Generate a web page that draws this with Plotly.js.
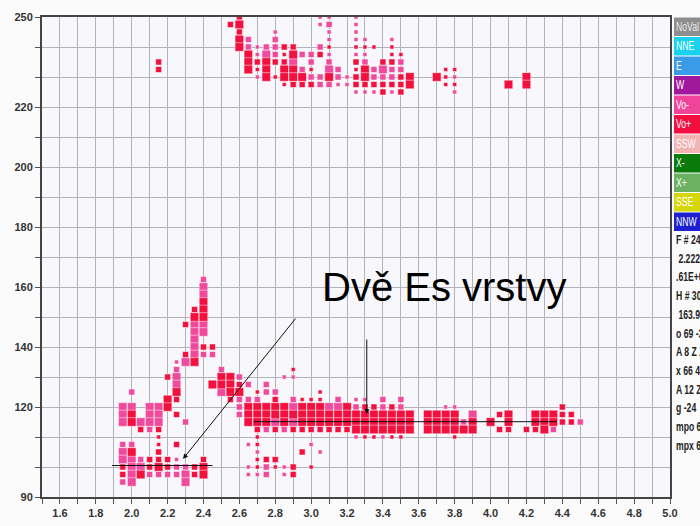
<!DOCTYPE html>
<html><head><meta charset="utf-8">
<script src="https://cdn.plot.ly/plotly-3.0.1.min.js"></script>
<style>html,body{margin:0;padding:0;background:#fbfbfc;overflow:hidden}</style>
</head><body><div id="chart" style="width:700px;height:526px"></div>
<script>
// Vo- (pink) echoes: [frequency MHz, virtual height km, amplitude class 1..3]
const voMinus = [
[2.65,242.5,2],[2.65,240,2],[2.7,240,1],[2.7,237.5,1],[2.7,230,1],
[2.75,240,2],[2.75,237.5,3],[2.8,245,1],[2.8,242.5,2],[2.8,240,2],[2.8,237.5,2],
[2.9,235,3],[2.95,237.5,2],[2.95,232.5,2],[3.0,237.5,2],[3.0,235,2],[3.0,230,2],
[3.05,250,1],[3.05,247.5,1],[3.05,240,2],[3.05,230,2],[3.05,227.5,2],
[3.1,250,1],[3.1,247.5,2],[3.1,245,1],[3.1,242.5,1],[3.1,237.5,1],[3.1,235,2],[3.1,232.5,3],[3.1,227.5,2],
[3.15,232.5,2],[3.15,230,2],[3.15,227.5,1],[3.2,230,1],[3.2,227.5,1],
[3.25,250,1],[3.25,247.5,1],[3.25,245,1],[3.25,242.5,1],[3.25,237.5,1],[3.25,225,1],
[3.3,242.5,1],[3.3,237.5,1],[3.3,235,2],[3.3,225,1],
[3.35,232.5,2],[3.35,230,2],[3.35,225,1],[3.4,232.5,3],[3.4,230,2],
[3.45,242.5,1],[3.45,232.5,2],[3.45,230,2],[3.45,225,1],[3.5,235,2],[3.5,232.5,2],
[3.8,230,1],[3.8,225,1],
[1.95,120,3],[1.95,117.5,3],[1.95,115,3],[1.95,107.5,2],[1.95,105,3],[1.95,102.5,3],[1.95,95,2],
[2.0,125,2],[2.0,120,3],[2.0,107.5,2],[2.0,102.5,3],[2.0,100,3],[2.0,97.5,3],[2.0,95,3],
[2.05,115,3],[2.05,102.5,2],[2.05,100,3],
[2.1,120,3],[2.1,117.5,3],[2.1,115,3],[2.1,112.5,2],[2.1,97.5,2],
[2.15,120,3],[2.15,117.5,3],[2.15,115,3],[2.15,97.5,2],[2.2,97.5,2],
[2.25,135,1],[2.25,132.5,2],[2.25,130,3],[2.25,127.5,3],[2.25,102.5,1],[2.25,100,2],[2.25,97.5,2],
[2.3,135,3],[2.3,115,2],[2.3,100,2],[2.3,97.5,3],[2.3,95,3],
[2.35,147.5,3],[2.35,145,3],[2.35,142.5,3],[2.35,140,3],[2.35,137.5,3],
[2.4,162.5,2],[2.4,160,3],[2.4,157.5,3],[2.4,147.5,3],[2.4,145,3],[2.4,137.5,2],
[2.45,137.5,2],[2.5,132.5,2],[2.5,125,3],
[2.6,130,2],[2.6,122.5,2],[2.6,120,2],[2.6,117.5,2],
[2.65,127.5,2],[2.65,122.5,2],[2.65,107.5,1],[2.65,100,1],[2.65,97.5,1],
[2.7,122.5,2],[2.7,105,1],[2.7,97.5,1],
[2.75,127.5,2],[2.75,125,2],[2.75,112.5,2],[2.75,100,2],[2.75,97.5,2],
[2.8,125,2],[2.8,115,3],[2.85,130,1],[2.85,112.5,2],[2.85,100,1],[2.85,97.5,1],
[2.9,130,1],[2.9,122.5,2],[2.9,120,3],[2.9,115,3],
[3.0,107.5,1],[3.05,105,1],[3.1,120,3],[3.15,122.5,2],[3.15,120,3],
[3.25,122.5,1],[3.25,120,2],[3.25,110,1],[3.3,122.5,1],
[3.4,122.5,2],[3.4,120,2],[3.4,110,1],[3.5,122.5,2],[3.5,120,2],
[3.75,120,1],[3.8,120,1],[3.85,115,2],[3.9,117.5,3],[4.35,112.5,2],[4.5,115,2]
];
// Vo+ (red) echoes
const voPlus = [
[2.15,235,2],[2.15,232.5,2],[2.55,247.5,2],
[2.6,250,2],[2.6,247.5,3],[2.6,245,2],[2.6,242.5,3],[2.6,240,3],
[2.65,237.5,3],[2.65,235,3],[2.65,232.5,3],[2.7,235,2],[2.7,232.5,1],
[2.75,235,3],[2.75,232.5,3],[2.75,230,3],[2.8,235,2],[2.8,230,1],
[2.85,240,2],[2.85,237.5,1],[2.85,235,2],[2.85,232.5,3],[2.85,230,3],[2.85,227.5,1],
[2.9,240,2],[2.9,237.5,3],[2.9,232.5,3],[2.9,230,3],[2.9,227.5,2],
[2.95,230,3],[2.95,227.5,2],[3.0,232.5,1],[3.0,227.5,2],[3.05,237.5,2],
[3.1,240,1],[3.1,230,3],
[3.25,240,1],[3.25,235,2],[3.25,232.5,1],[3.25,230,2],[3.25,227.5,2],
[3.3,240,1],[3.3,232.5,3],[3.3,230,3],[3.3,227.5,2],[3.35,240,1],[3.35,227.5,2],
[3.4,235,2],[3.4,227.5,2],[3.4,225,2],
[3.45,240,1],[3.45,237.5,1],[3.45,235,2],[3.45,227.5,2],
[3.5,237.5,1],[3.5,230,2],[3.5,227.5,2],[3.5,225,2],
[3.55,230,3],[3.55,227.5,3],[3.7,230,3],
[3.75,232.5,1],[3.75,230,1],[3.75,227.5,1],[3.8,232.5,1],[3.8,227.5,1],
[4.1,227.5,3],[4.2,230,3],[4.2,227.5,3],
[1.95,100,2],[1.95,97.5,2],[2.0,117.5,3],[2.0,115,3],[2.0,105,3],
[2.05,112.5,2],[2.05,97.5,3],[2.1,102.5,2],[2.1,100,2],
[2.15,112.5,2],[2.15,110,1],[2.15,107.5,1],[2.15,105,2],[2.15,102.5,2],[2.15,100,3],
[2.2,130,2],[2.2,122.5,3],[2.2,120,3],[2.2,102.5,2],[2.2,100,2],
[2.25,125,3],[2.25,122.5,2],[2.25,117.5,2],[2.25,107.5,2],
[2.3,147.5,2],[2.3,137.5,2],
[2.35,152.5,2],[2.35,150,3],[2.35,135,3],[2.35,100,2],[2.35,97.5,2],
[2.4,155,3],[2.4,152.5,3],[2.4,150,3],[2.4,140,2],[2.4,102.5,2],[2.4,100,3],[2.4,97.5,3],
[2.45,140,2],[2.45,127.5,3],[2.5,130,3],[2.5,127.5,3],
[2.55,130,3],[2.55,127.5,3],[2.55,125,3],[2.55,122.5,2],[2.6,127.5,2],[2.6,125,3],
[2.65,120,3],[2.65,117.5,3],[2.65,115,3],
[2.7,125,1],[2.7,120,3],[2.7,117.5,3],[2.7,115,3],[2.7,112.5,2],[2.7,110,1],[2.7,107.5,1],[2.7,102.5,1],[2.7,100,1],
[2.75,120,3],[2.75,117.5,3],[2.75,115,3],[2.75,102.5,2],
[2.8,122.5,2],[2.8,120,3],[2.8,117.5,3],[2.8,112.5,2],[2.8,102.5,2],[2.8,100,1],
[2.85,120,3],[2.85,117.5,3],[2.85,115,3],
[2.9,132.5,1],[2.9,117.5,3],[2.9,112.5,2],[2.9,100,2],[2.9,97.5,2],
[2.95,122.5,1],[2.95,120,3],[2.95,117.5,3],[2.95,115,3],[2.95,112.5,2],[2.95,105,2],
[3.0,122.5,1],[3.0,120,3],[3.0,117.5,3],[3.0,115,3],[3.0,112.5,2],[3.0,100,1],
[3.05,125,1],[3.05,122.5,1],[3.05,120,3],[3.05,117.5,3],[3.05,115,3],[3.05,112.5,2],
[3.1,117.5,3],[3.1,115,3],[3.1,112.5,2],[3.15,117.5,3],[3.15,115,3],[3.15,112.5,2],
[3.2,120,3],[3.2,117.5,3],[3.2,115,3],[3.2,112.5,2],
[3.25,117.5,3],[3.25,115,3],[3.25,112.5,3],
[3.3,120,2],[3.3,117.5,3],[3.3,115,3],[3.3,112.5,3],[3.3,110,1],
[3.35,120,2],[3.35,117.5,3],[3.35,115,3],[3.35,112.5,3],[3.35,110,1],
[3.4,117.5,3],[3.4,115,3],[3.4,112.5,3],
[3.45,120,2],[3.45,117.5,3],[3.45,115,3],[3.45,112.5,3],[3.45,110,1],
[3.5,117.5,3],[3.5,115,3],[3.5,112.5,3],[3.5,110,1],
[3.55,117.5,3],[3.55,115,3],[3.55,112.5,3],
[3.65,117.5,3],[3.65,115,3],[3.65,112.5,3],[3.7,117.5,3],[3.7,115,3],[3.7,112.5,3],
[3.75,117.5,3],[3.75,115,3],[3.75,112.5,3],
[3.8,117.5,3],[3.8,115,3],[3.8,112.5,3],[3.8,110,1],
[3.85,112.5,3],[3.9,115,3],[3.9,112.5,3],[4.0,115,3],
[4.05,117.5,2],[4.05,112.5,2],[4.1,117.5,3],[4.1,115,3],[4.1,112.5,2],[4.2,112.5,2],
[4.25,117.5,3],[4.25,115,3],[4.25,112.5,2],[4.3,117.5,3],[4.3,115,3],[4.3,112.5,3],
[4.35,117.5,3],[4.35,115,3],[4.4,120,2],[4.4,117.5,2],[4.4,115,2],[4.45,117.5,2],[4.45,115,2]
];
// Es layer heights marked on the ionogram [fStart, fEnd, height]
const esLayers = [[1.89,2.45,100.5],[2.68,4.37,115.1]];
const titleText = 'Dvě Es vrstvy';
const legendLabels = ['NoVal','NNE','E','W','Vo-','Vo+','SSW','X-','X+','SSE','NNW'];
const legendColors = ['#8e8e8e','#18d2f0','#3a9be8','#a0189c','#f0439a','#f20f3f','#f2b3b3','#0a7a0a','#6cb062','#d6d60c','#1e1ed2'];
const infoLines = ['F # 24','\u00a02.222','.61E+0','H # 30','\u00a0163.9','o 69 -3','A 8 Z Z','x 66 4','A 12 Z','g -24','mpo 6','mpx 6'];
const yTickLabelled = [90,120,140,160,180,200,220,250];

const sizeOf = a => ({1:4,2:6,3:8.6})[a];
function trace(pts,color){
  return {type:'scatter',mode:'markers',x:pts.map(p=>p[0]),y:pts.map(p=>p[1]),
    marker:{symbol:'square',color:color,opacity:1,size:pts.map(p=>sizeOf(p[2])),line:{width:0.5,color:'#ffffff'}},
    hoverinfo:'skip',cliponaxis:true};
}
const xTickVals=[],xTickText=[];
for(let i=15;i<=50;i++){xTickVals.push(i/10);xTickText.push(i%2===0?(i/10).toFixed(1):'');}
const yTickVals=[],yTickText=[];
for(let v=90;v<=250;v+=10){yTickVals.push(v);yTickText.push(yTickLabelled.includes(v)?String(v):'');}

const narrow = '"Liberation Sans Narrow","Liberation Sans",Arial,sans-serif';
const tf = {family:narrow,size:11,color:'#333',weight:'bold'};
const axisBase = {showgrid:true,gridcolor:'#b2b2ba',gridwidth:1,showline:true,mirror:true,linecolor:'#444',linewidth:2,
  ticks:'outside',ticklen:5,tickcolor:'#555',tickwidth:1,tickfont:tf,zeroline:false,fixedrange:true,tickmode:'array'};

const shapes=[], annotations=[];
esLayers.forEach(l=>shapes.push({type:'line',xref:'x',yref:'y',x0:l[0],x1:l[1],y0:l[2],y1:l[2],line:{color:'#111',width:1}}));
const pyToPaper = py => (497-py)/480;
const bx0 = (674-42)/628;
legendLabels.forEach((lab,i)=>{
  const top = 17.5+19.5*i, bot = top+18.5;
  shapes.push({type:'rect',xref:'paper',yref:'paper',x0:bx0,x1:1.08,y0:pyToPaper(bot),y1:pyToPaper(top),fillcolor:legendColors[i],line:{width:0}});
  annotations.push({xref:'paper',yref:'paper',x:bx0,y:pyToPaper((top+bot)/2),xanchor:'left',yanchor:'middle',align:'left',showarrow:false,text:lab,
    font:{family:narrow,size:12,color:i===0?'#ececec':'#ffffff'},name:'side'});
});
infoLines.forEach((t,i)=>{
  annotations.push({xref:'paper',yref:'paper',x:bx0,y:pyToPaper(240+18.7*i),xanchor:'left',yanchor:'middle',align:'left',showarrow:false,text:t,
    font:{family:narrow,size:12,color:'#222',weight:'bold'},name:'side'});
});
annotations.push({xref:'x',yref:'y',x:3.74,y:160,showarrow:false,text:titleText,font:{family:'"Liberation Sans",Arial,sans-serif',size:40,color:'#000'}});
annotations.push({xref:'x',yref:'y',x:2.286,y:102.7,axref:'x',ayref:'y',ax:2.92,ay:150,showarrow:true,arrowhead:2,arrowsize:1,arrowwidth:1,arrowcolor:'#111',text:''});
annotations.push({xref:'x',yref:'y',x:3.31,y:117.7,axref:'x',ayref:'y',ax:3.31,ay:143,showarrow:true,arrowhead:2,arrowsize:1,arrowwidth:1,arrowcolor:'#111',text:''});

const layout = {width:700,height:526,margin:{l:42,r:30,t:17,b:29,pad:0},
  paper_bgcolor:'#fbfbfc',plot_bgcolor:'#f8f8fc',showlegend:false,
  xaxis:Object.assign({},axisBase,{range:[1.5,5.0],tickvals:xTickVals,ticktext:xTickText}),
  yaxis:Object.assign({},axisBase,{range:[90,250],tickvals:yTickVals,ticktext:yTickText}),
  shapes:shapes,annotations:annotations};
Plotly.newPlot('chart',[trace(voMinus,'#f04a9c'),trace(voPlus,'#f2103e')],layout,{staticPlot:true,displayModeBar:false}).then(gd=>{
  // emulate the condensed side-panel font: squeeze glyphs horizontally, keeping the left edge
  gd.querySelectorAll('.annotation-text').forEach(t=>{
    const r=t.getBoundingClientRect();
    if(r.left>660){
      const w=t.getComputedTextLength();
      t.setAttribute('textLength',(w*0.72).toFixed(1));
      t.setAttribute('lengthAdjust','spacingAndGlyphs');
    }
  });
});
</script></body></html>
